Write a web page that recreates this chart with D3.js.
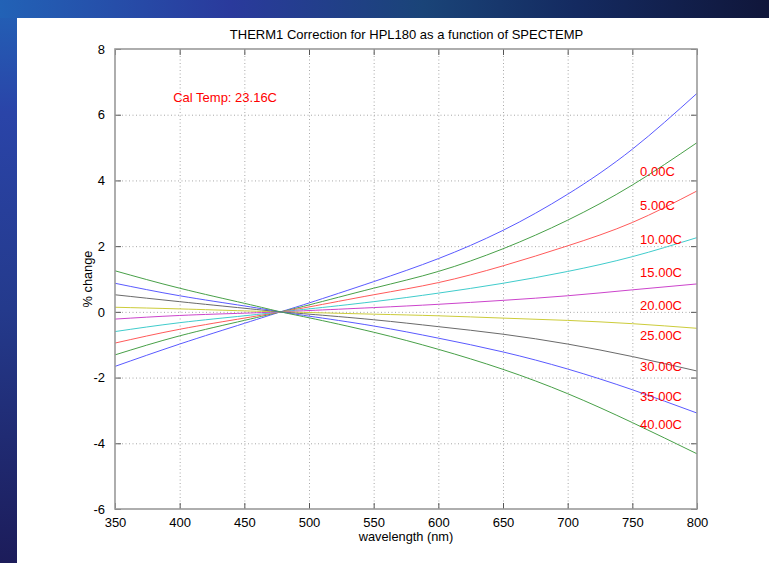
<!DOCTYPE html>
<html>
<head>
<meta charset="utf-8">
<script src="https://cdn.jsdelivr.net/npm/d3@7"></script>
<style>
  html, body { margin: 0; padding: 0; background: #ffffff; }
  svg { display: block; }
  text { font-family: "Liberation Sans", Arial, Helvetica, sans-serif; }
</style>
</head>
<body>
<svg id="chart" width="769" height="563"></svg>
<script>
// Wavelength sample points (nm)
const wavelengths = [350, 400, 450, 478, 500, 550, 600, 650, 700, 750, 800];

// Spectrometer temperatures of each curve
const temps = ["0.00C", "5.00C", "10.00C", "15.00C", "20.00C", "25.00C", "30.00C", "35.00C", "40.00C"];

// % change per wavelength, one array per temperature
const t00 = [-1.66, -0.98, -0.35, 0, 0.27, 0.92, 1.62, 2.48, 3.58, 4.95, 6.65];
const t05 = [-1.31, -0.73, -0.26, 0, 0.21, 0.72, 1.23, 1.92, 2.79, 3.86, 5.15];
const t10 = [-0.95, -0.53, -0.19, 0, 0.15, 0.52, 0.89, 1.40, 2.01, 2.72, 3.68];
const t15 = [-0.60, -0.33, -0.12, 0, 0.09, 0.31, 0.57, 0.87, 1.23, 1.68, 2.26];
const t20 = [-0.22, -0.11, -0.04, 0, 0.04, 0.13, 0.23, 0.35, 0.49, 0.67, 0.85];
const t25 = [0.14, 0.09, 0.03, 0, -0.02, -0.07, -0.12, -0.19, -0.26, -0.36, -0.50];
const t30 = [0.52, 0.31, 0.11, 0, -0.07, -0.24, -0.45, -0.68, -0.98, -1.36, -1.80];
const t35 = [0.87, 0.49, 0.18, 0, -0.13, -0.43, -0.80, -1.22, -1.74, -2.37, -3.08];
const t40 = [1.25, 0.72, 0.26, 0, -0.18, -0.62, -1.14, -1.75, -2.49, -3.37, -4.32];
const seriesValues = [t00, t05, t10, t15, t20, t25, t30, t35, t40];

// Temperature label anchors in data units (wavelength, % change)
const labelX = 756;
const labelY = [4.26, 3.23, 2.19, 1.19, 0.21, -0.73, -1.67, -2.56, -3.44];

// Calibration note
const calNote = "Cal Temp: 23.16C";
const calX = 395, calY = 6.54;

// Axis ticks
const xTicks = [350, 400, 450, 500, 550, 600, 650, 700, 750, 800];
const yTicks = [-6, -4, -2, 0, 2, 4, 6, 8];

const titleText = "THERM1 Correction for HPL180 as a function of SPECTEMP";
const xLabel = "wavelength (nm)";
const yLabel = "% change";

// MATLAB-style colour order
const lineColors = ["#5a5aff", "#48a048", "#ff5a5a", "#40cccc", "#cc44cc", "#cccc3a", "#6a6a6a", "#5a5aff", "#48a048"];

const svg = d3.select("#chart");
const W = 769, H = 563;

// Slide backdrop: blue gradient strips around the white figure
const defs = svg.append("defs");
const gLeft = defs.append("linearGradient").attr("id", "gLeft").attr("x1", 0).attr("y1", 0).attr("x2", 0).attr("y2", 1);
gLeft.append("stop").attr("offset", "0%").attr("stop-color", "#2262b6");
gLeft.append("stop").attr("offset", "20%").attr("stop-color", "#2a44a8");
gLeft.append("stop").attr("offset", "55%").attr("stop-color", "#243a8c");
gLeft.append("stop").attr("offset", "100%").attr("stop-color", "#1c1c5a");
const gTop = defs.append("linearGradient").attr("id", "gTop").attr("x1", 0).attr("y1", 0).attr("x2", 1).attr("y2", 0);
gTop.append("stop").attr("offset", "0%").attr("stop-color", "#2262b6");
gTop.append("stop").attr("offset", "30%").attr("stop-color", "#2a3a9c");
gTop.append("stop").attr("offset", "55%").attr("stop-color", "#1a4478");
gTop.append("stop").attr("offset", "75%").attr("stop-color", "#142a60");
gTop.append("stop").attr("offset", "100%").attr("stop-color", "#10163a");

svg.append("rect").attr("x", 0).attr("y", 0).attr("width", W).attr("height", H).attr("fill", "url(#gLeft)");
svg.append("rect").attr("x", 0).attr("y", 0).attr("width", W).attr("height", 18).attr("fill", "url(#gTop)");
svg.append("rect").attr("x", 17).attr("y", 18).attr("width", W - 17).attr("height", H - 18).attr("fill", "#ffffff");

// Plot area
const x0 = 115, x1 = 697, y0 = 49, y1 = 509;
const x = d3.scaleLinear().domain([350, 800]).range([x0, x1]);
const y = d3.scaleLinear().domain([-6, 8]).range([y1, y0]);

// Dotted grid
const grid = svg.append("g").attr("stroke", "#a8a8a8").attr("stroke-width", 1).attr("stroke-dasharray", "1,2.5");
grid.selectAll("line.gx").data(xTicks.slice(1, -1)).join("line")
  .attr("x1", d => x(d) + 0.5).attr("x2", d => x(d) + 0.5).attr("y1", y0).attr("y2", y1);
grid.selectAll("line.gy").data(yTicks.slice(1, -1)).join("line")
  .attr("x1", x0).attr("x2", x1).attr("y1", d => y(d) + 0.5).attr("y2", d => y(d) + 0.5);

// Curves
const line = d3.line().x((d, i) => x(wavelengths[i])).y(d => y(d)).curve(d3.curveNatural);
svg.append("g").selectAll("path").data(seriesValues).join("path")
  .attr("d", line).attr("fill", "none")
  .attr("stroke", (d, i) => lineColors[i]).attr("stroke-width", 1);

// Axes with inward ticks on all four sides
const axisColor = "#9a9a9a";
const tickLen = 6;
const plainNum = d => String(d);
function styleAxis(g) {
  g.select(".domain").remove();
  g.selectAll(".tick line").attr("stroke", "#555555");
  g.selectAll(".tick text").attr("fill", "#000000").attr("font-size", 13);
}
svg.append("g").attr("transform", `translate(0,${y1})`)
  .call(d3.axisBottom(x).tickValues(xTicks).tickSizeInner(-tickLen).tickSizeOuter(0).tickPadding(9).tickFormat(plainNum))
  .call(styleAxis);
svg.append("g").attr("transform", `translate(0,${y0})`)
  .call(d3.axisTop(x).tickValues(xTicks).tickSizeInner(-tickLen).tickSizeOuter(0).tickFormat(""))
  .call(styleAxis);
svg.append("g").attr("transform", `translate(${x0},0)`)
  .call(d3.axisLeft(y).tickValues(yTicks).tickSizeInner(-tickLen).tickSizeOuter(0).tickPadding(10).tickFormat(plainNum))
  .call(styleAxis);
svg.append("g").attr("transform", `translate(${x1},0)`)
  .call(d3.axisRight(y).tickValues(yTicks).tickSizeInner(-tickLen).tickSizeOuter(0).tickFormat(""))
  .call(styleAxis);

svg.append("rect").attr("x", x0).attr("y", y0).attr("width", x1 - x0).attr("height", y1 - y0)
  .attr("fill", "none").attr("stroke", axisColor).attr("stroke-width", 1.6);

// Title and axis labels
svg.append("text").attr("x", (x0 + x1) / 2 + 0.5).attr("y", 39).attr("text-anchor", "middle")
  .attr("font-size", 13).attr("fill", "#000").text(titleText);
svg.append("text").attr("x", (x0 + x1) / 2).attr("y", 541).attr("text-anchor", "middle")
  .attr("font-size", 12.8).attr("fill", "#000").text(xLabel);
svg.append("text").attr("transform", `translate(92,${(y0 + y1) / 2}) rotate(-90)`).attr("text-anchor", "middle")
  .attr("font-size", 12.8).attr("fill", "#000").text(yLabel);

// Temperature labels and calibration note
svg.append("g").selectAll("text").data(temps).join("text")
  .attr("x", x(labelX)).attr("y", (d, i) => y(labelY[i])).attr("dy", "0.35em")
  .attr("font-size", 13).attr("fill", "#ff0000").text(d => d);
svg.append("text").attr("x", x(calX)).attr("y", y(calY)).attr("dy", "0.35em")
  .attr("font-size", 13).attr("fill", "#ff0000").text(calNote);
</script>
</body>
</html>
